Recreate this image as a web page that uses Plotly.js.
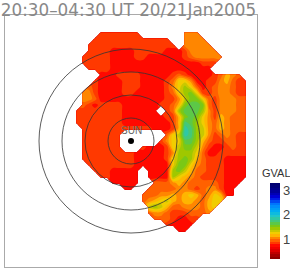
<!DOCTYPE html>
<html><head><meta charset="utf-8">
<script src="https://cdn.plot.ly/plotly-3.0.1.min.js"></script>
<style>html,body{margin:0;padding:0;background:#fff}</style></head>
<body><div id="chart" style="width:290px;height:268px"></div>
<script>
const _ = null;
const xGrid = [-60,-54,-48,-42,-36,-30,-24,-18,-12,-6,0,6,12,18,24,30,36,42,48,54,60,66,72,78,84,90,96,102,108,114,120];
const yGrid = [114,108,102,96,90,84,78,72,66,60,54,48,42,36,30,24,18,12,6,0,-6,-12,-18,-24,-30,-36,-42,-48,-54,-60,-66,-72,-78,-84,-90,-96,-102];
// GVAL in hundredths, one row per yGrid entry, one column per xGrid entry
const gvalRows = [
[_,_,_,_,_,_,_,_,_,_,_,_,_,_,_,_,_,_,_,_,_,_,_,_,_,_,_,_,_,_,_],
[_,_,_,_,_,85,85,85,85,85,85,85,_,_,_,_,_,_,_,105,105,105,_,_,_,_,_,_,_,_,_],
[_,_,_,_,85,85,85,85,85,85,85,85,85,85,85,85,85,_,_,105,105,105,105,_,_,_,_,_,_,_,_],
[_,_,_,85,85,85,85,85,85,85,85,85,85,85,85,85,85,85,_,105,105,105,105,105,_,_,_,_,_,_,_],
[_,_,_,85,85,85,85,75,75,75,75,85,85,85,85,85,75,75,75,85,105,105,105,105,105,_,_,_,_,_,_],
[_,_,85,85,85,85,85,75,75,75,75,85,85,75,75,75,75,75,75,85,95,105,105,105,105,105,_,_,_,_,_],
[_,_,85,85,85,85,85,75,75,75,75,75,75,75,75,75,75,75,75,75,75,75,85,85,85,_,_,_,_,_,_],
[_,_,_,85,85,85,85,75,75,75,75,75,75,75,75,75,75,75,75,75,75,75,75,75,_,_,_,_,_,_,_],
[_,_,_,_,_,75,75,75,85,85,85,85,75,75,75,75,75,85,95,85,75,75,75,75,85,95,115,105,95,_,_],
[_,_,_,_,85,75,75,75,75,85,85,85,75,75,75,75,85,95,125,125,105,75,75,85,85,105,115,95,85,85,_],
[_,_,_,95,85,75,75,75,75,85,85,85,75,75,75,75,85,105,125,145,125,95,75,85,95,105,105,95,85,85,_],
[_,_,105,105,85,75,75,75,75,85,85,75,75,75,75,75,85,95,125,145,155,125,85,85,95,105,105,95,85,85,_],
[_,_,105,105,95,75,75,75,75,75,75,75,75,75,75,75,85,85,105,135,155,155,125,95,85,105,105,105,95,95,_],
[_,_,95,85,75,85,85,85,85,75,75,75,75,75,75,85,85,95,115,155,165,165,155,95,85,105,105,105,95,95,_],
[_,85,85,85,85,85,85,85,85,75,75,75,75,75,75,_,85,95,145,165,165,165,145,105,85,105,105,105,95,95,_],
[_,85,85,85,85,85,85,85,85,75,75,75,75,75,75,75,85,85,115,155,165,155,125,105,85,115,105,95,95,95,_],
[_,85,85,85,85,85,85,85,85,75,75,75,75,75,75,75,75,85,115,175,165,145,125,105,95,115,105,95,95,95,_],
[_,_,85,85,85,85,85,85,85,85,85,85,85,85,75,75,75,85,115,185,175,145,135,105,95,115,105,95,95,95,_],
[_,_,85,85,85,85,85,85,85,_,_,_,_,_,_,_,95,125,135,185,175,145,135,105,85,95,105,95,85,85,_],
[_,_,85,85,85,85,85,85,85,_,_,_,_,_,_,85,105,125,125,165,165,145,115,95,85,85,95,95,85,85,_],
[_,_,85,85,85,85,85,85,85,_,_,_,85,75,75,75,85,125,135,155,155,135,105,85,75,75,85,95,85,85,_],
[_,_,85,85,85,85,85,85,85,85,85,75,75,75,75,75,85,105,145,145,145,125,95,75,75,85,85,85,85,85,_],
[_,_,85,85,85,85,85,85,85,85,85,75,75,75,75,75,85,125,145,155,145,115,95,85,85,85,75,75,75,75,_],
[_,_,_,85,85,85,85,85,85,85,85,75,75,75,75,75,75,125,155,155,125,105,95,85,85,85,75,75,75,75,_],
[_,_,_,_,85,85,85,75,75,75,75,75,_,75,75,75,75,145,155,135,115,95,95,85,85,85,75,75,75,75,_],
[_,_,_,_,_,85,85,75,75,75,75,75,_,75,75,75,75,145,125,115,105,95,85,85,85,85,75,75,75,75,_],
[_,_,_,_,_,_,_,75,75,75,75,75,_,_,95,95,95,105,115,105,95,95,95,95,95,85,75,75,75,_,_],
[_,_,_,_,_,_,_,_,_,75,75,_,_,95,95,95,95,95,105,105,95,85,95,105,105,85,75,75,_,_,_],
[_,_,_,_,_,_,_,_,_,_,_,_,95,95,95,105,105,115,105,115,125,115,95,105,125,115,75,75,_,_,_],
[_,_,_,_,_,_,_,_,_,_,_,_,95,105,115,125,135,115,105,115,115,105,95,115,125,125,_,_,_,_,_],
[_,_,_,_,_,_,_,_,_,_,_,_,_,135,145,135,115,95,95,105,105,105,95,115,125,_,_,_,_,_,_],
[_,_,_,_,_,_,_,_,_,_,_,_,_,95,105,105,95,85,85,85,95,95,95,105,_,_,_,_,_,_,_],
[_,_,_,_,_,_,_,_,_,_,_,_,_,_,95,95,95,85,75,75,85,85,_,_,_,_,_,_,_,_,_],
[_,_,_,_,_,_,_,_,_,_,_,_,_,_,_,_,85,75,75,75,75,_,_,_,_,_,_,_,_,_,_],
[_,_,_,_,_,_,_,_,_,_,_,_,_,_,_,_,_,_,75,75,_,_,_,_,_,_,_,_,_,_,_],
[_,_,_,_,_,_,_,_,_,_,_,_,_,_,_,_,_,_,_,_,_,_,_,_,_,_,_,_,_,_,_],
[_,_,_,_,_,_,_,_,_,_,_,_,_,_,_,_,_,_,_,_,_,_,_,_,_,_,_,_,_,_,_]
];
const ringRadii = [23, 46, 69, 92];
const sunX = [0], sunY = [0];
const colorTickVals = [1, 2, 3];
const titleText = '20:30\u201304:30 UT 20/21Jan2005';
const colorbarLabel = 'GVAL';
const sunLabel = 'SUN';
const zMin = 0.2, zMax = 3.3;
const scaleVals = [0.2,0.4,0.6,0.75,0.85,0.95,1.05,1.15,1.25,1.35,1.45,1.55,1.65,1.75,1.85,2.0,2.2,2.5,2.8,3.0,3.3];
const scaleCols = ['#800000','#b00000','#e80000','#ff0000','#ff3000','#ff5a00','#ff7800','#ffa800','#ffd000','#d8c800','#b0c800','#88c800','#68c830','#50c860','#38c890','#20c8c8','#00b0f0','#0080ff','#0000e0','#0000a0','#000070'];

const z = gvalRows.map(r => r.map(v => v === null ? null : v / 100));
const colorscale = scaleVals.map((v, i) => [(v - zMin) / (zMax - zMin), scaleCols[i]]);

const traces = [{
  type: 'contour', x: xGrid, y: yGrid, z: z,
  zmin: zMin, zmax: zMax, zauto: false, colorscale: colorscale,
  autocontour: false,
  contours: {start: zMin, end: zMax, size: 0.1, coloring: 'fill', showlines: false},
  line: {width: 0},
  connectgaps: false, hoverinfo: 'skip',
  colorbar: {
    lenmode: 'pixels', len: 76, thickness: 10, thicknessmode: 'pixels',
    x: 1.0516, xanchor: 'left', xpad: 0, y: 0.1825, yanchor: 'middle', ypad: 0,
    outlinewidth: 0, borderwidth: 0, ticks: '', tickmode: 'array', tickvals: colorTickVals,
    ticktext: colorTickVals.map(String),
    tickfont: {family: 'Liberation Sans', size: 13, color: '#444'}
  }
}, {
  type: 'scatter', mode: 'markers', x: sunX, y: sunY,
  marker: {color: '#000', size: 6}, hoverinfo: 'skip', showlegend: false
}];

const layout = {
  width: 290, height: 268, autosize: false,
  margin: {l: 5, r: 33, t: 15, b: 1, pad: 0},
  paper_bgcolor: '#fff', plot_bgcolor: '#fff', showlegend: false,
  title: {text: titleText, x: 0.003, xref: 'container', xanchor: 'left', y: 0.986, yref: 'container', yanchor: 'top',
          pad: {l: 0, t: 0}, font: {family: 'DejaVu Sans', size: 16.8, color: '#888'}},
  xaxis: {range: [-126, 126], showgrid: false, zeroline: false, showticklabels: false, ticks: '',
          showline: true, mirror: true, linecolor: '#aaa', linewidth: 1},
  yaxis: {range: [-126, 126], showgrid: false, zeroline: false, showticklabels: false, ticks: '',
          showline: true, mirror: true, linecolor: '#aaa', linewidth: 1},
  shapes: ringRadii.map(r => ({type: 'circle', xref: 'x', yref: 'y', x0: -r, x1: r, y0: -r, y1: r,
          line: {color: '#333', width: 0.8}, layer: 'above'})),
  annotations: [
    {text: sunLabel, x: 0, y: 11, xref: 'x', yref: 'y', showarrow: false, xanchor: 'center', yanchor: 'middle',
     font: {family: 'Liberation Sans', size: 10, color: '#666'}},
    {text: colorbarLabel, x: 1.016, y: 0.372, xref: 'paper', yref: 'paper', showarrow: false, xanchor: 'left', yanchor: 'middle',
     font: {family: 'Liberation Sans', size: 11, color: '#333'}, xshift: 0, borderpad: 0}
  ]
};
Plotly.newPlot('chart', traces, layout, {staticPlot: true, displayModeBar: false});
</script></body></html>
